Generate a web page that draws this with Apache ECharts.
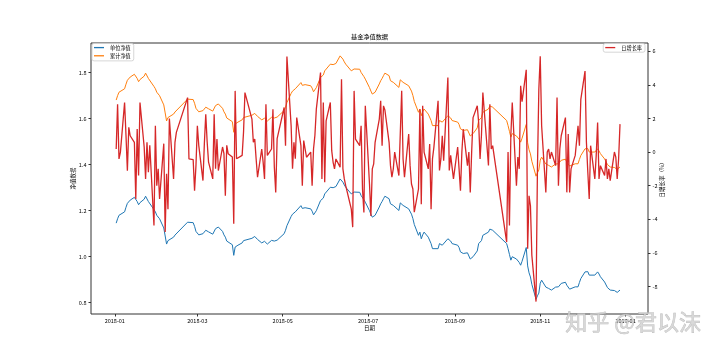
<!DOCTYPE html>
<html>
<head>
<meta charset="utf-8">
<script src="https://cdn.jsdelivr.net/npm/echarts@6/dist/echarts.min.js"></script>
<style>
html, body { margin: 0; padding: 0; background: #fff; }
#main { width: 720px; height: 354px; }
</style>
</head>
<body>
<div id="main"></div>
<script>
// 2018年A股休市日（工作日）
var holidays = ['2018-01-01', '2018-02-15', '2018-02-16', '2018-02-19', '2018-02-20', '2018-02-21',
    '2018-04-05', '2018-04-06', '2018-04-30', '2018-05-01', '2018-06-18', '2018-09-24',
    '2018-10-01', '2018-10-02', '2018-10-03', '2018-10-04', '2018-10-05', '2018-12-31'];

// 单位净值，每行一个月
var unitNav = [
    1.146, 1.165, 1.180, 1.178, 1.195, 1.215, 1.232, 1.240, 1.246, 1.258, 1.262, 1.240, 1.226, 1.235, 1.250, 1.263, 1.258, 1.240, 1.232, 1.205, 1.195, 1.180,
    1.172, 1.165, 1.125, 1.090, 1.055, 1.070, 1.062, 1.085, 1.094, 1.100, 1.150, 1.155, 1.148, 1.132, 1.110,
    1.107, 1.095, 1.100, 1.108, 1.115, 1.112, 1.108, 1.098, 1.105, 1.122, 1.125, 1.129, 1.110, 1.095, 1.085, 1.068, 1.060, 1.052, 1.006, 1.042, 1.045, 1.050,
    1.060, 1.070, 1.078, 1.080, 1.085, 1.088, 1.082, 1.075, 1.060, 1.057, 1.067, 1.062, 1.055, 1.071, 1.078, 1.068, 1.064, 1.072,
    1.100, 1.115, 1.135, 1.175, 1.185, 1.190, 1.195, 1.200, 1.222, 1.210, 1.205, 1.213, 1.205, 1.208, 1.198, 1.182, 1.190, 1.200, 1.244, 1.238, 1.255, 1.273,
    1.277, 1.302, 1.309, 1.300, 1.295, 1.305, 1.338, 1.330, 1.324, 1.312, 1.302, 1.273, 1.278, 1.281, 1.288, 1.280, 1.266, 1.259, 1.248, 1.237,
    1.200, 1.185, 1.172, 1.175, 1.180, 1.216, 1.230, 1.240, 1.252, 1.263, 1.252, 1.230, 1.226, 1.223, 1.216, 1.201, 1.234, 1.226, 1.223, 1.227, 1.208, 1.201,
    1.185, 1.166, 1.140, 1.093, 1.107, 1.078, 1.095, 1.107, 1.085, 1.078, 1.057, 1.035, 1.028, 1.035, 1.057, 1.060, 1.050, 1.057, 1.078, 1.071, 1.068, 1.057, 1.060,
    1.050, 1.040, 1.021, 1.018, 1.014, 1.017, 1.014, 0.990, 0.985, 1.000, 1.025, 1.057, 1.050, 1.070, 1.093, 1.107, 1.120, 1.125, 1.115,
    1.057, 1.035, 1.010, 0.985, 1.000, 0.990, 0.985, 0.975, 0.963, 0.980, 1.040, 0.960, 0.930, 0.912, 0.880, 0.815, 0.830, 0.842,
    0.885, 0.898, 0.868, 0.865, 0.862, 0.860, 0.855, 0.868, 0.876, 0.869, 0.872, 0.884, 0.889, 0.876, 0.868, 0.859, 0.857, 0.869, 0.866, 0.869, 0.888, 0.905,
    0.934, 0.941, 0.935, 0.920, 0.918, 0.920, 0.926, 0.934, 0.925, 0.913, 0.890, 0.883, 0.866, 0.860, 0.855, 0.853, 0.855, 0.845, 0.848, 0.855
];

// 累计净值
var accNav = [
    1.681, 1.700, 1.715, 1.713, 1.730, 1.750, 1.767, 1.775, 1.781, 1.793, 1.797, 1.775, 1.761, 1.770, 1.785, 1.798, 1.793, 1.775, 1.767, 1.740, 1.730, 1.715,
    1.707, 1.700, 1.660, 1.625, 1.590, 1.605, 1.597, 1.620, 1.629, 1.635, 1.685, 1.690, 1.683, 1.667, 1.645,
    1.642, 1.630, 1.635, 1.643, 1.650, 1.647, 1.643, 1.633, 1.640, 1.657, 1.660, 1.664, 1.645, 1.630, 1.620, 1.603, 1.595, 1.587, 1.541, 1.577, 1.580, 1.585,
    1.595, 1.605, 1.613, 1.615, 1.620, 1.623, 1.617, 1.610, 1.595, 1.592, 1.602, 1.597, 1.590, 1.606, 1.613, 1.603, 1.599, 1.607,
    1.635, 1.650, 1.670, 1.710, 1.720, 1.725, 1.730, 1.735, 1.757, 1.745, 1.740, 1.748, 1.740, 1.743, 1.733, 1.717, 1.725, 1.735, 1.779, 1.773, 1.790, 1.808,
    1.812, 1.837, 1.844, 1.835, 1.830, 1.840, 1.873, 1.865, 1.859, 1.847, 1.837, 1.808, 1.813, 1.816, 1.823, 1.815, 1.801, 1.794, 1.783, 1.772,
    1.735, 1.720, 1.707, 1.710, 1.715, 1.751, 1.765, 1.775, 1.787, 1.798, 1.787, 1.765, 1.761, 1.758, 1.751, 1.736, 1.769, 1.761, 1.758, 1.762, 1.743, 1.736,
    1.720, 1.701, 1.675, 1.628, 1.642, 1.613, 1.630, 1.642, 1.620, 1.613, 1.592, 1.570, 1.563, 1.570, 1.592, 1.595, 1.585, 1.592, 1.613, 1.606, 1.603, 1.592, 1.595,
    1.585, 1.575, 1.556, 1.553, 1.549, 1.552, 1.549, 1.525, 1.520, 1.535, 1.560, 1.592, 1.585, 1.605, 1.628, 1.642, 1.655, 1.660, 1.650,
    1.592, 1.570, 1.545, 1.520, 1.535, 1.525, 1.520, 1.510, 1.498, 1.515, 1.575, 1.495, 1.465, 1.447, 1.415, 1.350, 1.365, 1.377,
    1.420, 1.433, 1.403, 1.400, 1.397, 1.395, 1.390, 1.403, 1.411, 1.404, 1.407, 1.419, 1.424, 1.411, 1.403, 1.394, 1.392, 1.404, 1.401, 1.404, 1.423, 1.440,
    1.469, 1.476, 1.470, 1.455, 1.453, 1.455, 1.461, 1.469, 1.460, 1.448, 1.425, 1.418, 1.401, 1.395, 1.390, 1.388, 1.390, 1.380, 1.383, 1.390
];

// 日增长率（%）
var dailyRate = [
    0.18, 2.85, -0.41, -0.02, 2.95, 1.0, -1.11, 1.47, 0.97, 0.58, -2.79, 1.37, -1.40, 2.95, 0.3, -1.60, 0.58, -1.20, 0.4, -4.37, 1.56, -2.00,
    -1.00, -2.79, 0.5, -4.76, -1.30, -3.40, 2.00, -1.60, 0.58, 1.17, 3.24, -0.41, -0.45, -2.30, -0.81,
    1.56, 0.4, -1.7, 0.5, 2.25, 0.6, -0.6, -1.6, 2.25, -1.0, 0.77, -1.1, 0.3, -0.1, -2.6, 0.4, -0.1, -0.3, -4.27, 3.64, -0.4, -0.3,
    -0.2, 1.2, 3.54, 1.96, 0.58, 0.77, -0.41, -1.5, 0.18, -0.6, -1.6, 2.85, -0.2, 0.18, 2.55, -0.9, -2.4, 0.8,
    2.65, 0.38, 5.68, 1.56, -1.0, 0.58, -0.4, 2.05, 0.38, -2.0, 0.68, 0.18, -0.31, 0.0, -2.0, 0.18, 1.0, 2.55, 4.73, -1.6, 2.95, -1.8,
    1.86, 2.95, 0.08, -0.61, -1.0, -0.41, -0.9, 4.33, -1.0, -1.6, -2.0, -3.4, -4.47, 3.64, 0.77, 0.38, 1.56, -2.2, -3.6, 2.75,
    -1.9, -3.8, -1.0, -0.7, 0.58, 1.96, 3.05, 0.38, 2.75, 2.5, 0.58, -0.81, -1.5, -1.0, 0.0, -1.4, -1.5, 3.64, -0.41, -1.5, 1.07, -0.81,
    -1.9, -2.2, -3.58, -2.2, 2.55, -3.1, 2.75, 0.0, -1.0, 0.48, -3.4, -0.41, 0.28, 3.05, -1.1, -0.41, 0.97, -0.51, 4.43, -1.1, -0.2, -0.31, -1.6,
    0.3, -1.0, -2.3, 0.0, 1.36, -0.81, 0.0, -2.4, 0.0, 2.05, 2.75, 1.76, -0.41, 1.0, 3.54, -0.8, 2.85, 0.18, 0.38,
    -5.36, 0.0, -4.37, 1.0, 2.95, -2.0, -0.3, -1.0, 3.94, 3.0, 4.9, -5.76, -2.6, -3.2, -6.14, -8.9, -1.0, 3.74,
    5.7, 1.56, -2.4, 0.0, 0.18, -0.41, 0.0, -0.81, 3.24, -2.0, 0.18, 0.97, 2.05, -2.4, 1.07, -2.4, -1.0, -0.2, -0.2, 1.56, 0.38, 3.14,
    4.82, 0.58, -1.2, -2.79, 0.38, -1.6, -0.2, 1.76, -1.6, -0.81, -1.4, -0.41, -1.6, -1.0, -1.7, 0.0, -0.3, -1.6, -0.41, 1.66
];

var xTickLabels = ['2018-01', '2018-03', '2018-05', '2018-07', '2018-09', '2018-11', '2019-01'];
var navTicks = [0.8, 1.0, 1.2, 1.4, 1.6, 1.8];
var rateTicks = [-8, -6, -4, -2, 0, 2, 4, 6];

var FONT = '"Noto Sans CJK SC", "DejaVu Sans", sans-serif';

function pad(n) { return n < 10 ? '0' + n : '' + n; }
function fmtDay(d) { return d.getFullYear() + '-' + pad(d.getMonth() + 1) + '-' + pad(d.getDate()); }

// 交易日 = 工作日去掉休市日
function tradeDays() {
    var days = [];
    var d = new Date(2018, 0, 1);
    while (d.getFullYear() === 2018) {
        var wd = d.getDay();
        if (wd !== 0 && wd !== 6 && holidays.indexOf(fmtDay(d)) < 0) {
            days.push(d.getTime());
        }
        d.setDate(d.getDate() + 1);
    }
    return days;
}

var days = tradeDays();
function pairs(values) {
    var out = [];
    for (var i = 0; i < days.length && i < values.length; i++) {
        out.push([days[i], values[i]]);
    }
    return out;
}

var xTickValues = xTickLabels.map(function (s) {
    var p = s.split('-');
    return new Date(+p[0], +p[1] - 1, 1).getTime();
});

var chart = echarts.init(document.getElementById('main'));

var nameStyle = { fontSize: 5.5, color: '#000', fontFamily: FONT };

var option = {
    animation: false,
    backgroundColor: '#fff',
    textStyle: { fontFamily: FONT },
    title: {
        text: '基金净值数据',
        left: 369.5,
        top: 33.5,
        padding: 0,
        textAlign: 'center',
        textStyle: { fontSize: 6.2, fontWeight: 'normal', color: '#000', fontFamily: FONT }
    },
    grid: {
        left: 91, right: 72, top: 43, bottom: 40,
        show: true, borderColor: '#333', borderWidth: 1, backgroundColor: 'transparent'
    },
    legend: [{
        data: ['单位净值', '累计净值'],
        orient: 'vertical',
        left: 92, top: 43.5,
        padding: [1.5, 3, 2.5, 2],
        itemGap: 3,
        itemWidth: 10, itemHeight: 1.3,
        icon: 'rect',
        borderColor: '#ccc', borderWidth: 0.8, borderRadius: 2,
        backgroundColor: '#fff',
        textStyle: { fontSize: 5.2, color: '#000', fontFamily: FONT, padding: [0, 0, 0, 1] }
    }, {
        data: ['日增长率'],
        orient: 'vertical',
        right: 75, top: 43.5,
        padding: [1.5, 3, 2, 2],
        itemWidth: 10, itemHeight: 1.3,
        icon: 'rect',
        borderColor: '#ccc', borderWidth: 0.8, borderRadius: 2,
        backgroundColor: '#fff',
        textStyle: { fontSize: 5.2, color: '#000', fontFamily: FONT, padding: [0, 0, 0, 1] }
    }],
    xAxis: {
        type: 'value',
        min: new Date(2017, 11, 15).getTime(),
        max: new Date(2019, 0, 17).getTime(),
        name: '日期',
        nameLocation: 'middle',
        nameGap: 11,
        nameMoveOverlap: false,
        nameTextStyle: nameStyle,
        axisLine: { show: false, onZero: false },
        axisTick: { show: true, length: 2.5, lineStyle: { color: '#333' }, customValues: xTickValues },
        axisLabel: {
            fontSize: 5.5, color: '#000', fontFamily: FONT, margin: 4, customValues: xTickValues,
            formatter: function (v) {
                var d = new Date(v);
                return d.getFullYear() + '-' + pad(d.getMonth() + 1);
            }
        },
        splitLine: { show: false }
    },
    yAxis: [{
        type: 'value',
        min: 0.751, max: 1.929,
        name: '净值数据',
        nameLocation: 'middle',
        nameGap: 15,
        nameRotate: 90,
        nameMoveOverlap: false,
        nameTextStyle: nameStyle,
        axisLine: { show: false },
        axisTick: { show: true, length: 2.5, lineStyle: { color: '#333' }, customValues: navTicks },
        axisLabel: { fontSize: 5.5, color: '#000', fontFamily: FONT, margin: 4.5, customValues: navTicks, formatter: function (v) { return v.toFixed(1); } },
        splitLine: { show: false }
    }, {
        type: 'value',
        position: 'right',
        min: -9.64, max: 6.49,
        name: '日增长率（%）',
        nameLocation: 'middle',
        nameGap: 11,
        nameRotate: 90,
        nameMoveOverlap: false,
        nameTextStyle: nameStyle,
        axisLine: { show: false },
        axisTick: { show: true, length: 2.5, lineStyle: { color: '#333' }, customValues: rateTicks },
        axisLabel: { fontSize: 5.5, color: '#000', fontFamily: FONT, margin: 4.5, customValues: rateTicks, formatter: function (v) { return String(v); } },
        splitLine: { show: false }
    }],
    series: [{
        name: '单位净值',
        type: 'line',
        data: pairs(unitNav),
        showSymbol: false,
        color: '#1f77b4',
        lineStyle: { width: 1, color: '#1f77b4' }
    }, {
        name: '累计净值',
        type: 'line',
        data: pairs(accNav),
        showSymbol: false,
        color: '#ff7f0e',
        lineStyle: { width: 1, color: '#ff7f0e' }
    }, {
        name: '日增长率',
        type: 'line',
        yAxisIndex: 1,
        data: pairs(dailyRate),
        showSymbol: false,
        color: '#d62728',
        lineStyle: { width: 1.3, color: '#d62728' }
    }],
    graphic: [{
        type: 'text',
        left: 565,
        top: 310,
        z: 100,
        style: {
            text: '知乎 @君以沫',
            font: '22px "Noto Sans CJK SC"',
            fill: 'rgba(210,210,210,0.85)',
            stroke: 'rgba(140,140,140,0.6)',
            lineWidth: 0.6
        }
    }]
};

chart.setOption(option);
</script>
</body>
</html>
